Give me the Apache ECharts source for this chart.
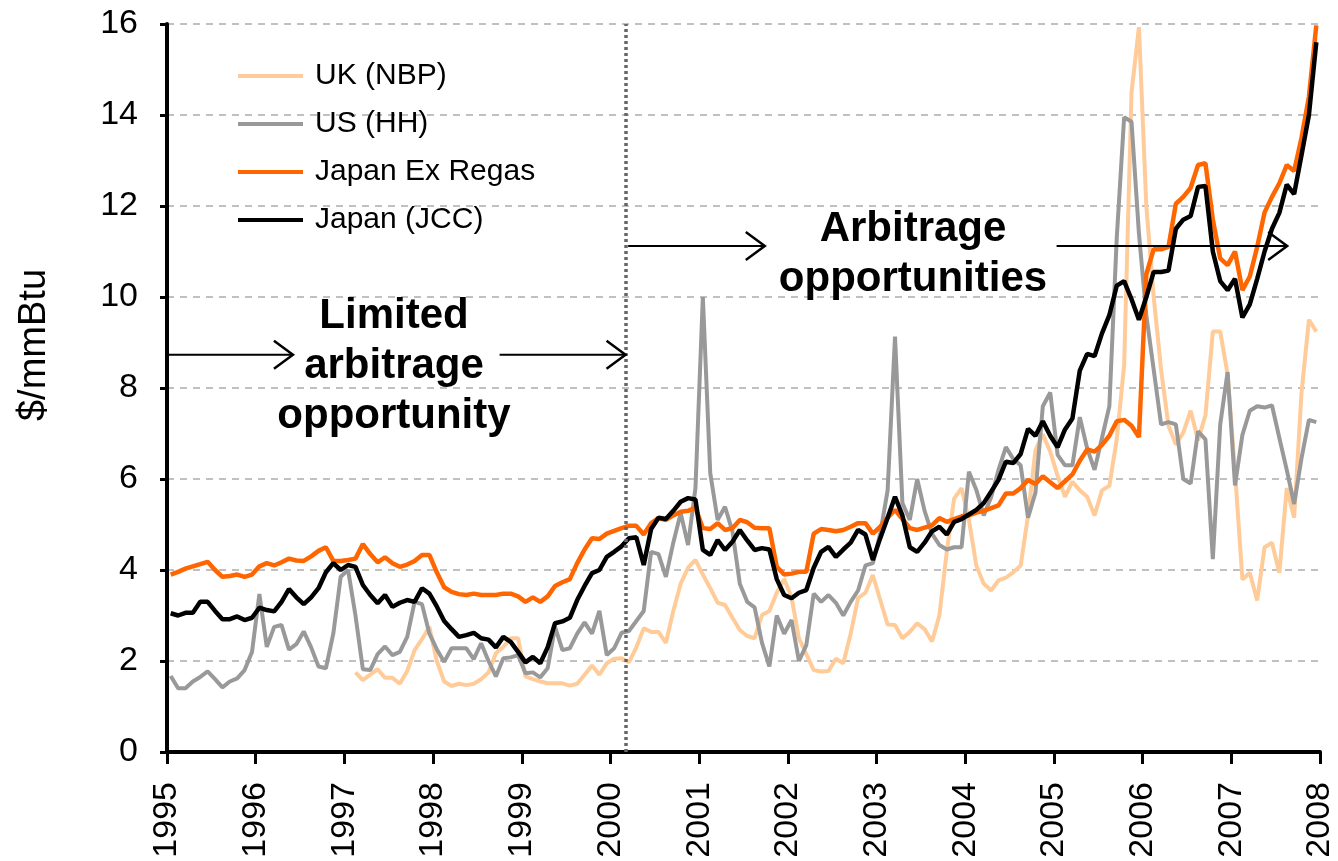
<!DOCTYPE html>
<html>
<head>
<meta charset="utf-8">
<title>LNG price arbitrage</title>
<script src="https://cdn.jsdelivr.net/npm/echarts@6/dist/echarts.min.js"></script>
<style>
  html, body { margin: 0; padding: 0; background: #fff; }
  #chart { width: 1338px; height: 861px; }
</style>
</head>
<body>
<div id="chart"></div>
<script>
// monthly prices, $/mmBtu, one row per year (Jan..Dec)
const firstYear = 1995
const yearTicks = [1995, 1996, 1997, 1998, 1999, 2000, 2001, 2002, 2003, 2004, 2005, 2006, 2007, 2008]

const japanExRegas = [
  3.9, 3.96, 4.03, 4.08, 4.13, 4.18, 4.0, 3.85, 3.87, 3.9, 3.85, 3.9,
  4.08, 4.15, 4.1, 4.17, 4.25, 4.21, 4.2, 4.3, 4.42, 4.5, 4.2, 4.2,
  4.22, 4.25, 4.57, 4.35, 4.17, 4.28, 4.15, 4.07, 4.12, 4.2, 4.33, 4.33,
  3.95, 3.62, 3.52, 3.47, 3.45, 3.48, 3.45, 3.45, 3.45, 3.48, 3.48, 3.42,
  3.3, 3.4, 3.3, 3.42, 3.65, 3.73, 3.8, 4.15, 4.45, 4.7, 4.68, 4.8,
  4.86, 4.92, 4.97, 4.97, 4.78, 5.03, 5.14, 5.1, 5.2, 5.28, 5.3, 5.37,
  4.92, 4.9, 5.03, 4.88, 4.92, 5.1, 5.05, 4.93, 4.92, 4.92, 4.07, 3.9,
  3.92, 3.96, 3.96, 4.8, 4.9, 4.88, 4.85, 4.88, 4.95, 5.03, 5.03, 4.8,
  4.95, 5.15, 5.32, 5.12, 4.92, 4.88, 4.93, 4.98, 5.14, 5.06, 5.12, 5.18,
  5.2, 5.26, 5.3, 5.36, 5.42, 5.68, 5.68, 5.8, 5.98, 5.89, 6.06, 5.93,
  5.8, 5.95, 6.1, 6.4, 6.65, 6.6, 6.75, 6.95, 7.27, 7.3, 7.17, 6.92,
  10.5, 11.05, 11.05, 11.1, 12.05, 12.2, 12.4, 12.9, 12.94, 11.7, 10.85, 10.7,
  11.0, 10.15, 10.45, 11.1, 11.86, 12.2, 12.5, 12.9, 12.77, 13.5, 14.4, 15.97
]

const japanJcc = [
  3.05, 3.0, 3.06, 3.06, 3.3, 3.3, 3.1, 2.92, 2.92, 2.98, 2.9, 2.95,
  3.17, 3.12, 3.09, 3.3, 3.58, 3.4, 3.25, 3.4, 3.6, 3.95, 4.15, 4.0,
  4.11, 4.07, 3.67, 3.45, 3.27, 3.45, 3.19, 3.28, 3.34, 3.3, 3.6, 3.48,
  3.2, 2.88, 2.7, 2.53, 2.57, 2.62, 2.5, 2.47, 2.3, 2.53, 2.42, 2.2,
  1.97, 2.09, 1.95, 2.3, 2.83, 2.87, 2.95, 3.34, 3.65, 3.93, 4.0, 4.29,
  4.4, 4.52, 4.7, 4.72, 4.11, 4.9, 5.15, 5.12, 5.3, 5.5, 5.58, 5.55,
  4.44, 4.33, 4.66, 4.44, 4.62, 4.88, 4.65, 4.44, 4.48, 4.45, 3.8, 3.45,
  3.38, 3.5, 3.56, 4.05, 4.4, 4.51, 4.29, 4.45, 4.6, 4.88, 4.78, 4.22,
  4.7, 5.15, 5.61, 5.2, 4.5, 4.4, 4.6, 4.85, 4.95, 4.78, 5.06, 5.12,
  5.22, 5.32, 5.47, 5.72, 5.98, 6.38, 6.35, 6.55, 7.1, 6.95, 7.27, 6.95,
  6.7, 7.09, 7.33, 8.38, 8.75, 8.7, 9.2, 9.6, 10.25, 10.35, 9.95, 9.5,
  10.0, 10.55, 10.55, 10.58, 11.5, 11.7, 11.78, 12.42, 12.44, 11.0, 10.35, 10.15,
  10.4, 9.55, 9.84, 10.4, 11.0, 11.5, 11.85, 12.47, 12.26, 13.12, 14.0, 15.6
]

const usHenryHub = [
  1.67, 1.4, 1.4, 1.55, 1.65, 1.77, 1.6, 1.42, 1.55, 1.62, 1.8, 2.2,
  3.47, 2.31, 2.75, 2.79, 2.25, 2.37, 2.65, 2.3, 1.88, 1.84, 2.6, 3.85,
  4.0, 3.0, 1.82, 1.8, 2.15, 2.32, 2.13, 2.2, 2.53, 3.3, 3.25, 2.6,
  2.26, 1.98, 2.28, 2.28, 2.28, 2.04, 2.39, 2.0, 1.66, 2.06, 2.08, 2.13,
  1.73, 1.75, 1.64, 1.84, 2.75, 2.24, 2.28, 2.6, 2.85, 2.6, 3.1, 2.13,
  2.28, 2.62, 2.66, 2.88, 3.1, 4.4, 4.35, 3.85, 4.6, 5.25, 4.55, 5.8,
  10.0, 6.13, 5.1, 5.39, 4.85, 3.7, 3.3, 3.18, 2.4, 1.88, 3.0, 2.6,
  2.9, 2.0, 2.35, 3.48, 3.3, 3.45, 3.28, 3.0, 3.3, 3.55, 4.1, 4.15,
  4.8, 5.75, 9.13, 5.47, 5.1, 6.0, 5.3, 4.8, 4.55, 4.45, 4.5, 4.5,
  6.16, 5.76, 5.2, 5.6, 6.2, 6.7, 6.44, 6.3, 5.15, 5.7, 7.6, 7.9,
  6.53, 6.3, 6.3, 7.36, 6.67, 6.2, 6.9, 7.6, 11.3, 13.95, 13.85, 11.4,
  9.6, 8.4, 7.2, 7.25, 7.2, 6.0, 5.9, 7.05, 6.87, 4.24, 7.2, 8.35,
  5.86, 6.97, 7.5, 7.6, 7.57, 7.62, 6.9, 6.2, 5.45, 6.46, 7.3, 7.25
]

// UK NBP series begins in Feb 1997 (month index 25)
const ukStartMonth = 25
const ukNbp = [
  1.75, 1.58, 1.7, 1.82, 1.63, 1.63, 1.5, 1.78, 2.24, 2.48, 2.75,
  2.0, 1.55, 1.45, 1.5, 1.47, 1.5, 1.6, 1.75, 2.17, 2.31, 2.5, 2.5,
  1.66, 1.6, 1.55, 1.51, 1.51, 1.51, 1.46, 1.5, 1.7, 1.9, 1.7, 1.95,
  2.05, 2.06, 1.97, 2.3, 2.72, 2.64, 2.64, 2.4, 3.1, 3.7, 4.05, 4.22,
  3.9, 3.6, 3.28, 3.23, 2.95, 2.68, 2.55, 2.5, 3.01, 3.1, 3.5, 3.8,
  3.4, 2.5, 2.15, 1.8, 1.77, 1.78, 2.05, 1.95, 2.6, 3.38, 3.5, 3.89,
  3.34, 2.8, 2.79, 2.5, 2.64, 2.83, 2.7, 2.43, 3.0, 4.4, 5.57, 5.8,
  5.1, 4.1, 3.7, 3.55, 3.77, 3.83, 3.95, 4.1, 5.2, 6.63, 6.98, 6.6,
  6.07, 5.61, 5.94, 5.75, 5.61, 5.2, 5.75, 5.85, 6.87, 8.5, 14.5, 15.93,
  12.0, 10.0, 8.4, 7.17, 6.76, 7.02, 7.5, 6.85, 7.4, 9.24, 9.24, 8.3,
  6.16, 3.79, 3.94, 3.33, 4.5, 4.6, 3.94, 5.8, 5.15, 7.9, 9.5, 9.24
]

// date the arbitrage window opened (dotted line)
const arbitrageStart = 2000.17

// arrows: [from year, to year, price level]
const arrowSpans = [
  [1995, 1996.42, 8.73],
  [1998.75, 2000.17, 8.73],
  [2000.2, 2001.74, 11.12],
  [2005.03, 2007.63, 11.12]
]

const FONT = '"Liberation Sans", Arial, sans-serif'

// month index -> mid-month position on the year axis
function toPoints (values, offset) {
  return values.map((v, i) => [firstYear + (offset + i + 0.5) / 12, v])
}

var myChart = echarts.init(document.getElementById('chart'))

const option = {
  animation: false,
  backgroundColor: '#fff',
  textStyle: { fontFamily: FONT, color: '#000' },
  grid: {
    left: 167,
    right: 18,
    top: 24,
    bottom: 109,
    outerBoundsMode: 'none'
  },
  legend: {
    orient: 'vertical',
    left: 233,
    top: 56,
    icon: 'rect',
    itemWidth: 65,
    itemHeight: 4,
    itemGap: 18,
    textStyle: { fontSize: 30, color: '#000', fontFamily: FONT, padding: [0, 0, 0, 7] },
    data: ['UK (NBP)', 'US (HH)', 'Japan Ex Regas', 'Japan (JCC)']
  },
  xAxis: {
    type: 'value',
    min: yearTicks[0],
    max: yearTicks[yearTicks.length - 1],
    interval: 1,
    axisLine: { onZero: false, lineStyle: { color: '#000', width: 4 } },
    axisTick: { show: true, length: 12, lineStyle: { color: '#000', width: 3 } },
    axisLabel: {
      rotate: 90,
      margin: 30,
      fontSize: 34,
      color: '#000',
      fontFamily: FONT,
      formatter: v => String(v)
    },
    splitLine: { show: false }
  },
  yAxis: {
    type: 'value',
    min: 0,
    max: 16,
    interval: 2,
    axisLine: { show: true, lineStyle: { color: '#000', width: 4 } },
    axisTick: { show: true, length: 7, lineStyle: { color: '#000', width: 3 } },
    axisLabel: { margin: 29, fontSize: 34, color: '#000', fontFamily: FONT },
    splitLine: { lineStyle: { color: '#c0c0c0', width: 2, type: [7, 6] } }
  },
  series: [
    {
      name: 'UK (NBP)',
      type: 'line',
      showSymbol: false,
      data: toPoints(ukNbp, ukStartMonth),
      itemStyle: { color: '#ffcc99' },
      lineStyle: { color: '#ffcc99', width: 4 }
    },
    {
      name: 'US (HH)',
      type: 'line',
      showSymbol: false,
      data: toPoints(usHenryHub, 0),
      itemStyle: { color: '#999999' },
      lineStyle: { color: '#999999', width: 4 },
      markLine: {
        silent: true,
        symbol: 'none',
        label: { show: false },
        lineStyle: { color: '#666666', width: 3.5, type: [3, 3] },
        data: [{ xAxis: arbitrageStart }]
      }
    },
    {
      name: 'Japan Ex Regas',
      type: 'line',
      showSymbol: false,
      data: toPoints(japanExRegas, 0),
      itemStyle: { color: '#ff6600' },
      lineStyle: { color: '#ff6600', width: 4.5 }
    },
    {
      name: 'Japan (JCC)',
      type: 'line',
      showSymbol: false,
      data: toPoints(japanJcc, 0),
      itemStyle: { color: '#000' },
      lineStyle: { color: '#000', width: 4.5 }
    }
  ]
}
myChart.setOption(option)

// annotations: axis title, text blocks and arrows placed from data coordinates
function buildGraphics () {
  const els = []
  els.push({
    type: 'text',
    x: 35,
    y: 345,
    rotation: Math.PI / 2,
    style: { text: '$/mmBtu', fontFamily: FONT, fontSize: 38, fill: '#000', align: 'center', verticalAlign: 'middle' }
  })
  const boldText = { fontFamily: FONT, fontWeight: 'bold', fontSize: 42, fill: '#000', align: 'center', verticalAlign: 'middle', lineHeight: 50 }
  els.push({ type: 'text', x: 394, y: 366, style: Object.assign({ text: 'Limited\narbitrage\nopportunity' }, boldText) })
  els.push({ type: 'text', x: 913, y: 254, style: Object.assign({ text: 'Arbitrage\nopportunities' }, boldText) })
  arrowSpans.forEach(a => {
    const p0 = myChart.convertToPixel({ gridIndex: 0 }, [a[0], a[2]])
    const p1 = myChart.convertToPixel({ gridIndex: 0 }, [a[1], a[2]])
    els.push({
      type: 'line',
      shape: { x1: p0[0], y1: p0[1], x2: p1[0], y2: p1[1] },
      style: { stroke: '#000', lineWidth: 2 },
      z: 100
    })
    els.push({
      type: 'polyline',
      shape: { points: [[p1[0] - 19, p1[1] - 14], [p1[0], p1[1]], [p1[0] - 19, p1[1] + 14]] },
      style: { stroke: '#000', lineWidth: 2.5, fill: null },
      z: 100
    })
  })
  return els
}
myChart.setOption({ graphic: buildGraphics() })
</script>
</body>
</html>
